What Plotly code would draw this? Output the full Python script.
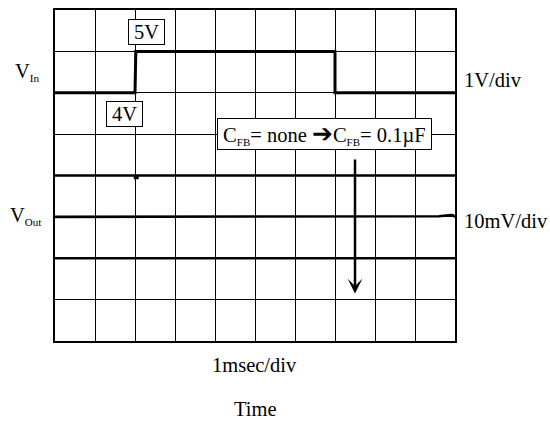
import plotly.graph_objects as go

# Oscilloscope-style capture: 1 ms/div horizontally, 10 divisions x 8 divisions.
time_ms = [0, 2.0, 2.02, 7.0, 7.0, 10]
vin_volts = [4, 4, 5, 5, 4, 4]

# Output traces (10 mV/div), one per feedback-capacitor setting.
vout_none_t = [0, 2.0, 2.0, 2.06, 2.06, 10]
vout_none_mv = [10, 10, 9.4, 9.4, 10, 10]
vout_mid_t = [0, 9.0, 9.6, 9.9, 9.95, 10]
vout_mid_mv = [0, 0, 0.15, 0.45, 0.4, 0]
vout_cfb_t = [0, 10]
vout_cfb_mv = [-10, -10]

FONT = "Liberation Serif, Times New Roman, serif"
FS = 20.5
SUB = '<sub><span style="font-size:11px">{}</span></sub>'
PAD = "\u2009"
ARROW = '<span style="font-size:25px">➔</span>'

fig = go.Figure()

for t, v in [(vout_none_t, vout_none_mv), (vout_mid_t, vout_mid_mv), (vout_cfb_t, vout_cfb_mv)]:
    fig.add_trace(go.Scatter(x=t, y=v, mode="lines", yaxis="y",
                             line=dict(color="black", width=2.6), hoverinfo="skip"))

fig.add_trace(go.Scatter(x=time_ms, y=vin_volts, mode="lines", yaxis="y2",
                         line=dict(color="black", width=3), hoverinfo="skip"))

box = dict(showarrow=False, font=dict(size=FS), bordercolor="black", borderwidth=1,
           borderpad=1, bgcolor="white")
ann = []
# Level tags on the input trace
ann.append(dict(x=2.29, y=5.46, xref="x", yref="y2", text=PAD + "5V" + PAD, **box))
ann.append(dict(x=1.725, y=3.48, xref="x", yref="y2", text=PAD + "4V" + PAD, **box))
# Feedback-capacitor change note
ann.append(dict(x=6.74, y=20, xref="x", yref="y",
                text=PAD + "C" + SUB.format("FB") + "= none " + ARROW + "C" + SUB.format("FB")
                + "= 0.1µF" + PAD, **box))
# Downward arrow showing the output shift
ann.append(dict(x=7.5, y=-18.5, xref="x", yref="y", ax=7.5, ay=14.2, axref="x", ayref="y",
                showarrow=True, arrowhead=3, arrowsize=1, arrowwidth=2.5,
                arrowcolor="black", text="", standoff=0))

# Channel names and scale labels
ann.append(dict(x=27, y=70, xref="paper", yref="paper", text="V" + SUB.format("In"),
                showarrow=False, font=dict(size=FS)))
ann.append(dict(x=25, y=215, xref="paper", yref="paper", text="V" + SUB.format("Out"),
                showarrow=False, font=dict(size=FS)))
ann.append(dict(x=462, y=78, xref="paper", yref="paper", text="1V/div",
                showarrow=False, font=dict(size=FS), xanchor="left"))
ann.append(dict(x=462, y=220, xref="paper", yref="paper", text="10mV/div",
                showarrow=False, font=dict(size=FS), xanchor="left"))
ann.append(dict(x=254.5, y=365, xref="paper", yref="paper", text="1msec/div",
                showarrow=False, font=dict(size=FS)))
ann.append(dict(x=255, y=409, xref="paper", yref="paper", text="Time",
                showarrow=False, font=dict(size=FS)))

# convert pixel positions of the outside labels to paper fractions
L, R, T, B = 55, 95, 8, 82
W, H = 550, 423
pw, ph = W - L - R, H - T - B
for a in ann:
    if a.get("xref") == "paper":
        a["x"] = (a["x"] - L) / pw
        a["y"] = 1 - (a["y"] - T) / ph
        a.setdefault("xanchor", "center")
        a["yanchor"] = "middle"

fig.update_layout(
    width=W, height=H,
    margin=dict(l=L, r=R, t=T, b=B, pad=0),
    paper_bgcolor="white", plot_bgcolor="white",
    font=dict(family=FONT, size=FS, color="black"),
    showlegend=False,
    annotations=ann,
    xaxis=dict(range=[0, 10], dtick=1, tick0=0, showgrid=True, gridcolor="black",
               gridwidth=1, showticklabels=False, ticks="", zeroline=False,
               showline=True, linecolor="black", linewidth=2, mirror=True),
    yaxis=dict(range=[-30, 50], dtick=10, tick0=0, showgrid=True, gridcolor="black",
               gridwidth=1, showticklabels=False, ticks="", zeroline=False,
               showline=True, linecolor="black", linewidth=2, mirror=True),
    yaxis2=dict(range=[-2, 6], overlaying="y", showgrid=False, showticklabels=False,
                ticks="", zeroline=False, showline=False),
)

fig.write_html("out.html")
